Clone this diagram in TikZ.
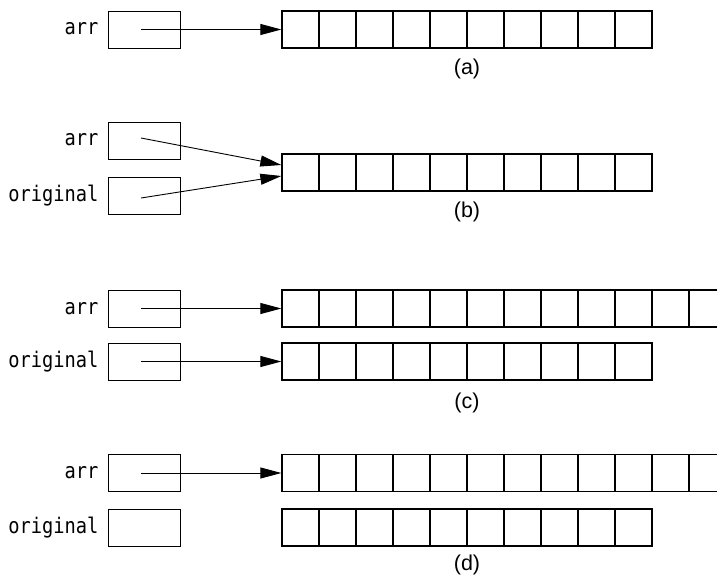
\documentclass[tikz,border=0pt]{standalone}
\usepackage{fontspec}
\setmainfont{Liberation Sans}
\newfontfamily\codefont[FakeStretch=0.87]{DejaVu Sans Mono}
\usetikzlibrary{arrows.meta,calc}
\tikzset{
  ptr/.style={draw, minimum width=72pt, minimum height=37pt, inner sep=0pt, line width=0.9pt},
  cell/.style={draw, minimum width=37pt, minimum height=37pt, inner sep=0pt, line width=1.3pt},
  varname/.style={anchor=base east, inner sep=0pt, font=\codefont\fontsize{21.5pt}{24pt}\selectfont},
  caption/.style={font=\fontsize{21.5pt}{24pt}\selectfont, inner sep=0pt},
  link/.style={-{Triangle[length=21pt,width=11pt]}, line width=0.9pt, shorten >=0pt},
}
\newcommand{\cellrow}[4]{% prefix, y, count
  \foreach \i in {0,...,#3} {
    \node[cell] (#1\i) at ({282+18.5+37*\i}, #2) {};
  }
}
\begin{document}
\begin{tikzpicture}[x=1pt,y=-1pt]
\clip (0,0) rectangle (717,580);
\useasboundingbox (0,0) rectangle (717,580);
% (a)
\node[ptr] (pa) at (144,29.5) {};
\node[varname] at ($(pa.west)+(-9,5.5)$) {arr};
\cellrow{a}{29.5}{9}{}
\draw[link] ($(pa.center)+(-3,0)$) -- (a0.west);
\node[caption] (ca) at (467,68.5) {(a)};
% (b)
\node[ptr] (pb1) at (144,140.5) {};
\node[ptr] (pb2) at (144,195.5) {};
\node[varname] at ($(pb1.west)+(-9,5.5)$) {arr};
\node[varname] at ($(pb2.west)+(-9,5.5)$) {original};
\cellrow{b}{172.5}{9}{}
\draw[link] ($(pb1.center)+(-3,-2.5)$) -- ($(b0.west)+(0,-7.5)$);
\draw[link] ($(pb2.center)+(-3,2.5)$) -- ($(b0.west)+(0,3.5)$);
\node[caption] (cb) at (467,212) {(b)};
% (c)
\node[ptr] (pc1) at (144,308.5) {};
\node[ptr] (pc2) at (144,361.5) {};
\node[varname] at ($(pc1.west)+(-9,5.5)$) {arr};
\node[varname] at ($(pc2.west)+(-9,5.5)$) {original};
\cellrow{c}{308.5}{11}{}
\cellrow{d}{361.5}{9}{}
\draw[link] ($(pc1.center)+(-3,0)$) -- (c0.west);
\draw[link] ($(pc2.center)+(-3,0)$) -- (d0.west);
\node[caption] (cc) at (467,403) {(c)};
% (d)
\node[ptr] (pd1) at (144,473) {};
\node[ptr] (pd2) at (144,528) {};
\node[varname] at ($(pd1.west)+(-9,5.5)$) {arr};
\node[varname] at ($(pd2.west)+(-9,5.5)$) {original};
\cellrow{e}{473}{11}{}
\cellrow{f}{527.5}{9}{}
\draw[link] ($(pd1.center)+(-3,0)$) -- (e0.west);
\node[caption] (cd) at (467,565) {(d)};
\end{tikzpicture}
\end{document}
